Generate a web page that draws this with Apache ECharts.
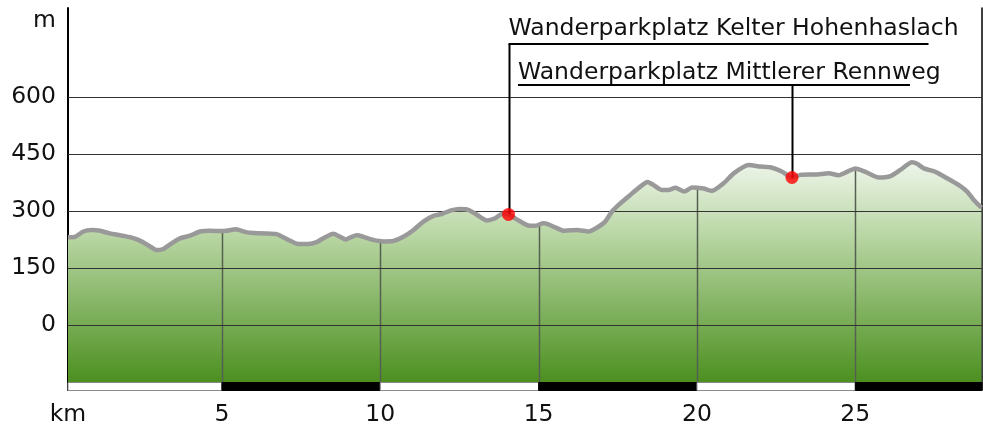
<!DOCTYPE html>
<html><head><meta charset="utf-8">
<script src="https://cdn.jsdelivr.net/npm/echarts@6/dist/echarts.min.js"></script>
<style>html,body{margin:0;padding:0;background:#fff}#c{width:983px;height:428px}</style>
</head><body><div id="c"></div>
<script>
const distKm=[0.14,0.36,0.62,0.89,1.15,1.46,1.78,2.15,2.41,2.67,2.94,3.15,3.41,3.68,3.99,4.31,4.62,4.99,5.15,5.44,5.73,5.99,6.36,6.73,7.05,7.41,7.73,7.99,8.26,8.52,8.73,8.91,9.10,9.26,9.47,9.78,10.10,10.41,10.73,11.05,11.36,11.68,11.94,12.21,12.52,12.78,13.05,13.37,13.63,13.84,14.05,14.31,14.63,14.89,15.15,15.31,15.52,15.79,16.21,16.58,16.84,17.10,17.31,17.58,17.89,18.21,18.44,18.63,18.89,19.10,19.32,19.60,19.84,20.21,20.47,20.84,21.16,21.63,22.00,22.32,22.69,23.00,23.26,23.79,24.16,24.47,24.74,25.00,25.32,25.74,26.11,26.42,26.79,26.95,27.16,27.53,27.90,28.27,28.53,28.74,28.98];
const elevM=[231,232,246,250,248,241,236,230,222,210,197,200,215,228,235,246,248,247,248,252,245,242,241,239,226,213,213,218,231,240,232,225,232,236,232,224,220,221,232,250,272,287,292,301,305,303,290,275,281,292,291,278,263,261,268,265,257,248,250,246,256,272,298,320,342,364,376,368,355,355,361,351,362,359,353,373,399,421,417,415,403,388,395,396,399,394,403,412,403,388,392,408,428,424,412,403,386,368,351,329,309];
const xTickValues=[0.14,5,10,15,20,25];
const xTickLabels=['km','5','10','15','20','25'];
const yTickValues=[0,150,300,450,600];
const yTickLabels=['0','150','300','450','600'];
const poiNames=['Wanderparkplatz Kelter Hohenhaslach','Wanderparkplatz Mittlerer Rennweg'];
const poiKm=[14.05,23.0];
const poiElev=[291,388];

const X_MIN=0.14, X_MAX=29.0, Y_MIN=-171, Y_MAX=834, Y_BASE=-150;
const FS=23.5;
const FONT=FS+'px "DejaVu Sans"';
const TXT='#111';

function elevAt(k){
  for(let i=0;i<distKm.length-1;i++){
    if(k>=distKm[i]&&k<=distKm[i+1]){
      const t=(k-distKm[i])/(distKm[i+1]-distKm[i]);
      return elevM[i]+t*(elevM[i+1]-elevM[i]);
    }
  }
  return elevM[elevM.length-1];
}
const profile=distKm.map((k,i)=>[k,elevM[i]]);
const segEdges=xTickValues.concat([X_MAX]);
const segments=[];
for(let i=0;i<segEdges.length-1;i++) segments.push([segEdges[i],segEdges[i+1],i%2]);

// annotation layout (pixels)
const ANN=[
  {textDx:0, textY:29, lineY:44, ulDx:0, ulLen:420},
  {textDx:-274, textY:72.5, lineY:85, ulDx:-274, ulLen:392}
];

const chart=echarts.init(document.getElementById('c'),null,{renderer:'canvas'});
chart.setOption({
  animation:false,
  backgroundColor:'#fff',
  grid:{left:68,right:1,top:8,bottom:38,containLabel:false},
  xAxis:{type:'value',min:X_MIN,max:X_MAX,
    axisLine:{show:false},axisTick:{show:false},splitLine:{show:false},
    axisLabel:{customValues:xTickValues,margin:13,fontFamily:'DejaVu Sans',fontSize:FS,color:TXT,
      formatter:v=>{const i=xTickValues.findIndex(t=>Math.abs(t-v)<1e-6);return i>=0?xTickLabels[i]:'';}}},
  yAxis:[
    {type:'value',min:Y_MIN,max:Y_MAX,position:'left',
      axisLine:{show:true,lineStyle:{color:'#000',width:2}},axisTick:{show:false},splitLine:{show:false},
      axisLabel:{customValues:yTickValues,margin:12,fontFamily:'DejaVu Sans',fontSize:FS,color:TXT,
        formatter:v=>{const i=yTickValues.findIndex(t=>Math.abs(t-v)<1e-6);return i>=0?yTickLabels[i]:'';}}},
    {type:'value',min:Y_MIN,max:Y_MAX,position:'right',
      axisLine:{show:true,lineStyle:{color:'#000',width:1.5}},axisTick:{show:false},splitLine:{show:false},axisLabel:{show:false}}
  ],
  graphic:[{type:'text',x:56,y:21,style:{text:'m',align:'right',verticalAlign:'middle',font:FONT,fill:TXT}}],
  series:[
    {type:'line',z:1,data:profile,showSymbol:false,smooth:0.2,lineStyle:{width:0},
      areaStyle:{origin:'start',opacity:1,color:new echarts.graphic.LinearGradient(0,0,0,1,[
        {offset:0,color:'#eef5ea'},{offset:0.3,color:'#bcd8a8'},{offset:1,color:'#468c18'}])}},
    {type:'custom',z:2,data:xTickValues.slice(1).map(v=>[v]),encode:{x:0},
      renderItem:(p,api)=>{const v=api.value(0);const t=api.coord([v,elevAt(v)]);const b=api.coord([v,Y_BASE]);
        const x=Math.round(t[0])+0.5;
        return {type:'line',shape:{x1:x,y1:t[1],x2:x,y2:b[1]},style:{stroke:'#566052',lineWidth:1.5}};}},
    {type:'custom',z:3,data:yTickValues.map(v=>[X_MIN,v]),encode:{x:0,y:1},
      renderItem:(p,api)=>{const v=api.value(1);const a=api.coord([X_MIN,v]);const b=api.coord([X_MAX,v]);
        const y=Math.round(a[1])+0.5;
        return {type:'line',shape:{x1:a[0],y1:y,x2:b[0],y2:y},style:{stroke:'#333',lineWidth:1}};}},
    {type:'line',z:4,data:profile,showSymbol:false,smooth:0.2,lineStyle:{color:'#999',width:4.5}},
    {type:'custom',z:5,data:poiKm.map((k,i)=>[k,poiElev[i],i]),encode:{x:0,y:1},
      renderItem:(p,api)=>{const i=api.value(2);const L=ANN[i];const pt=api.coord([api.value(0),api.value(1)]);
        const x=Math.round(pt[0])+0.5;
        return {type:'group',children:[
          {type:'line',shape:{x1:x,y1:L.lineY,x2:x,y2:pt[1]},style:{stroke:'#000',lineWidth:2}},
          {type:'line',shape:{x1:pt[0]+L.ulDx,y1:L.lineY,x2:pt[0]+L.ulDx+L.ulLen,y2:L.lineY},style:{stroke:'#000',lineWidth:2}},
          {type:'text',style:{text:poiNames[i],x:pt[0]+L.textDx,y:L.textY,align:'left',verticalAlign:'middle',font:FONT,fill:TXT}}
        ]};}},
    {type:'scatter',z:6,data:poiKm.map((k,i)=>[k,poiElev[i]]),symbol:'circle',symbolSize:13,itemStyle:{color:'#ff0000'}},
    {type:'custom',z:6,data:segments,encode:{x:[0,1]},
      renderItem:(p,api)=>{const a=api.coord([api.value(0),Y_BASE]);const b=api.coord([api.value(1),Y_BASE]);
        const dark=api.value(2)===1;
        return {type:'rect',shape:{x:a[0],y:Math.round(a[1])+0.5,width:b[0]-a[0],height:8},
          style:{fill:dark?'#000':'#fff',stroke:dark?'#000':'#8a8a8a',lineWidth:1}};}}
  ]
});
</script></body></html>
